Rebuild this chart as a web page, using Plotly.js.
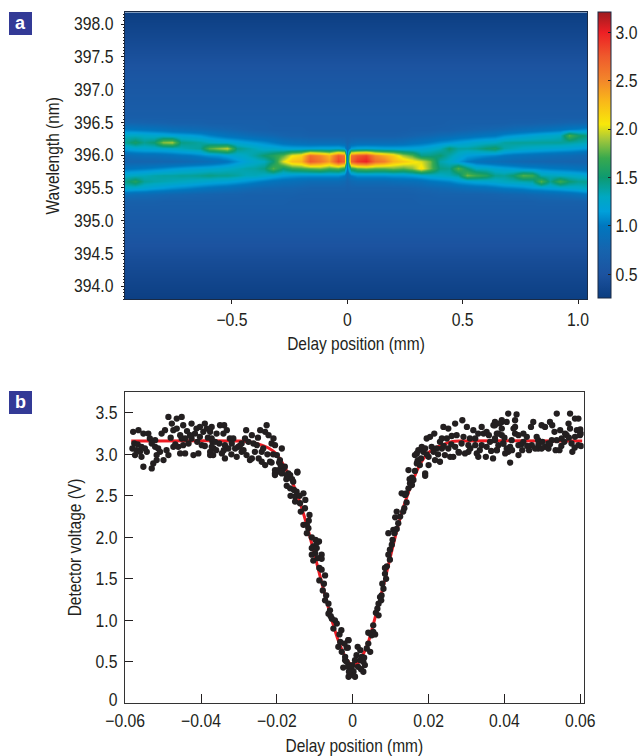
<!DOCTYPE html>
<html><head><meta charset="utf-8">
<script src="https://cdn.plot.ly/plotly-3.0.1.min.js"></script>
<style>html,body{margin:0;padding:0;background:#fff}#c{width:643px;height:756px}</style>
</head><body><div id="c"></div>
<script>
// Panel a: spectrogram
const delays = [-0.96,-0.92,-0.88,-0.84,-0.80,-0.76,-0.72,-0.68,-0.64,-0.60,-0.56,-0.52,-0.48,-0.44,-0.40,-0.36,-0.32,-0.28,-0.24,-0.20,-0.16,-0.12,-0.08,-0.04,-0.015,0,0.015,0.04,0.08,0.12,0.16,0.20,0.24,0.28,0.32,0.36,0.40,0.44,0.48,0.52,0.56,0.60,0.64,0.68,0.72,0.76,0.80,0.84,0.88,0.92,0.96,1.00,1.04];
const bandWavelengths = [395.3,395.4,395.5,395.6,395.7,395.8,395.9,396.0,396.1,396.2,396.3,396.4,396.5];
const bandColumns = [
[.70,.88,1.25,1.45,1.28,.98,.76,.85,1.18,1.42,1.30,1.02,.76],
[.70,.85,1.22,1.60,1.30,1.00,.76,.88,1.22,1.55,1.30,1.00,.75],
[.70,.84,1.20,1.40,1.32,1.02,.76,.90,1.24,1.42,1.28,.98,.74],
[.70,.82,1.15,1.36,1.36,1.05,.76,.90,1.25,1.50,1.25,.96,.73],
[.68,.80,1.12,1.34,1.38,1.08,.78,.92,1.26,1.85,1.24,.93,.72],
[.68,.78,1.08,1.32,1.38,1.12,.78,.95,1.28,1.90,1.20,.90,.70],
[.68,.77,1.05,1.30,1.40,1.15,.80,.98,1.32,1.45,1.18,.88,.70],
[.68,.76,1.02,1.28,1.40,1.18,.82,1.00,1.36,1.42,1.16,.86,.70],
[.68,.75,.98,1.25,1.42,1.20,.85,1.05,1.40,1.38,1.12,.84,.70],
[.68,.74,.95,1.22,1.45,1.22,.88,1.10,1.75,1.32,1.05,.82,.68],
[.68,.73,.92,1.20,1.42,1.25,.92,1.12,1.85,1.28,1.00,.80,.68],
[.68,.72,.90,1.18,1.42,1.28,.98,1.18,1.95,1.25,.95,.78,.68],
[.68,.72,.86,1.14,1.38,1.32,1.10,1.25,1.45,1.20,.92,.75,.68],
[.68,.70,.83,1.10,1.32,1.36,1.20,1.30,1.38,1.16,.88,.72,.68],
[.68,.70,.80,1.05,1.32,1.38,1.26,1.38,1.32,1.12,.85,.70,.68],
[.68,.70,.78,1.00,1.28,1.45,1.30,1.50,1.25,1.08,.82,.70,.68],
[.68,.70,.78,.95,1.22,1.75,1.50,1.60,1.25,1.02,.80,.68,.66],
[.68,.70,.76,.92,1.15,1.50,2.00,1.75,1.20,.95,.75,.68,.66],
[.66,.70,.76,.90,1.12,1.65,2.25,2.05,1.18,.92,.72,.68,.66],
[.66,.68,.74,.88,1.10,1.70,2.30,2.15,1.18,.90,.72,.68,.66],
[.66,.68,.72,.85,1.10,1.75,2.75,2.65,1.18,.88,.70,.66,.66],
[.66,.68,.72,.85,1.10,1.80,2.60,2.50,1.20,.88,.70,.66,.66],
[.66,.68,.72,.85,1.10,1.70,2.40,2.30,1.20,.88,.70,.66,.66],
[.66,.68,.72,.85,1.10,1.75,2.85,2.75,1.22,.88,.70,.66,.66],
[.66,.68,.72,.82,1.02,1.60,2.70,2.60,1.15,.85,.70,.66,.66],
[.66,.68,.70,.75,.85,.95,1.05,1.00,.85,.75,.70,.66,.66],
[.66,.68,.72,.82,1.02,1.60,2.70,2.60,1.15,.85,.70,.66,.66],
[.66,.68,.72,.85,1.10,1.75,2.90,2.75,1.20,.88,.70,.66,.66],
[.66,.68,.72,.85,1.10,1.80,3.00,2.85,1.22,.88,.70,.66,.66],
[.66,.68,.72,.85,1.10,1.75,2.65,2.50,1.20,.88,.70,.66,.66],
[.66,.68,.72,.85,1.10,1.75,2.55,2.35,1.18,.88,.70,.66,.66],
[.66,.68,.72,.88,1.12,1.80,2.30,2.20,1.18,.88,.70,.66,.66],
[.66,.68,.72,.90,1.12,1.75,2.20,1.90,1.18,.90,.72,.66,.66],
[.66,.68,.74,.90,1.15,1.85,2.10,1.75,1.18,.95,.74,.68,.66],
[.68,.70,.76,.92,1.20,2.10,2.00,1.45,1.20,.98,.78,.68,.66],
[.68,.70,.78,.98,1.25,1.80,1.80,1.45,1.25,1.02,.80,.68,.66],
[.68,.72,.80,1.02,1.28,1.45,1.35,1.50,1.32,1.08,.84,.70,.66],
[.68,.72,.82,1.05,1.32,1.42,1.28,1.36,1.50,1.12,.86,.70,.68],
[.68,.72,.85,1.12,1.40,1.75,1.15,1.25,1.38,1.16,.90,.72,.68],
[.68,.72,.88,1.16,1.80,1.50,1.02,1.15,1.38,1.20,.92,.74,.68],
[.68,.72,.90,1.20,1.70,1.30,.95,1.12,1.42,1.25,.95,.76,.68],
[.68,.73,.92,1.22,1.60,1.28,.90,1.08,1.50,1.28,.98,.78,.68],
[.68,.74,.96,1.25,1.42,1.22,.88,1.05,1.55,1.30,1.00,.80,.68],
[.68,.76,1.00,1.30,1.40,1.18,.85,1.00,1.36,1.38,1.08,.82,.68],
[.68,.77,1.02,1.32,1.50,1.15,.82,.96,1.32,1.40,1.12,.85,.70],
[.68,.78,1.05,1.35,1.75,1.10,.80,.94,1.28,1.40,1.16,.88,.70],
[.68,.80,1.10,1.38,1.70,1.08,.78,.92,1.26,1.40,1.20,.90,.70],
[.70,.82,1.12,1.75,1.35,1.05,.78,.90,1.24,1.40,1.24,.92,.72],
[.70,.84,1.15,1.42,1.32,1.02,.76,.88,1.22,1.40,1.26,.95,.72],
[.70,.86,1.18,1.70,1.30,1.00,.76,.86,1.20,1.40,1.30,.98,.74],
[.70,.88,1.22,1.50,1.28,.98,.75,.85,1.18,1.38,1.75,1.02,.76],
[.70,.92,1.25,1.42,1.26,.95,.75,.82,1.15,1.35,1.55,1.05,.76],
[.72,.98,1.30,1.42,1.22,.92,.75,.80,1.12,1.32,1.45,1.10,.78]
];
const belowWavelengths = [393.75,394.0,394.4,394.8,395.05,395.2];
const belowLevels = [.27,.33,.43,.56,.62,.66];
const aboveWavelengths = [396.6,396.8,397.2,397.6,398.0,398.2];
const aboveLevels = [.66,.62,.55,.44,.33,.27];
const scaleValues = [.255,.5,.75,1.0,1.15,1.3,1.5,1.7,1.9,2.05,2.3,2.5,2.75,3.0,3.21];
const scaleColors = ['#0b3d80','#1c53a0','#1664ae','#0077bf','#00a0da','#00a8c2','#0d9a70','#38a94e','#a6c83a','#f8e80a','#f9b51a','#f3872a','#ef5a2c','#ed1f24','#9d1b1f'];
const cbTicks = [0.5,1.0,1.5,2.0,2.5,3.0];
const aYTicks = [394,394.5,395,395.5,396,396.5,397,397.5,398];
const aXTicks = [-0.5,0,0.5,1.0];

// Panel b: measured points (delay in micrometres, detector volts)
const pointDelayUm = [
-57.9,-56.5,-55.2,-53.9,-53.5,-57.6,-56.7,-58.1,-57.0,-57.4,-56.1,-55.7,-54.3,-55.2,-53.0,-52.6,-51.7,-52.1,-51.3,-50.8,-51.7,-49.9,-48.6,-49.1,-47.3,-46.0,-45.5,-44.2,-52.1,-50.4,-49.5,-48.6,-47.7,-46.4,-45.1,-47.3,-46.4,-44.7,-45.5,-45.1,-44.2,-43.3,-42.5,-42.5,-41.2,-40.3,-39.0,-38.5,-39.4,-41.6,-40.3,-42.9,-39.8,-39.0,-42.0,-40.7,-37.6,-36.7,-37.0,-55.7,-54.8,-44.7,
-37.2,-37.6,-35.0,-33.9,-33.2,-35.9,-34.1,-37.2,-36.3,-37.2,-37.6,-36.8,-34.5,-33.7,-35.2,-33.7,-32.4,-31.5,-31.9,-32.8,-31.0,-30.2,-29.3,-28.4,-28.1,-26.6,-26.2,-25.3,-24.4,-23.1,-22.7,-22.2,-20.9,-21.4,-20.5,-18.7,-29.3,-30.6,-28.0,-26.6,-25.8,-24.0,-24.0,-23.1,-21.8,-20.0,-19.2,-19.6,-18.3,-17.0,-14.6,-20.5,-18.7,-27.1,-28.8,-23.6,
-21.4,-19.4,-17.9,-20.5,-19.6,-20.5,-18.7,-17.4,-16.5,-14.6,-15.7,-17.4,-16.5,-15.5,-14.8,-13.0,-16.4,-15.2,-15.2,-13.9,-12.6,-13.7,-11.4,-13.0,-12.1,-11.7,-12.1,-10.8,-8.9,-10.4,-10.8,-9.5,-9.9,-10.8,-8.2,-8.2,-10.4,-8.8,-8.2,-7.3,-8.8,-7.6,-7.9,-7.3,-6.4,-6.0,-6.4,-5.5,-4.7,-4.2,-5.1,-3.5,-1.1,-3.3,-3.8,-2.9,-1.6,-2.0,-2.5,-1.1,-1.1,-9.5,
-1.2,-1.3,1.3,2.0,1.0,2.4,4.1,4.6,3.7,0.6,2.0,2.8,3.2,2.2,-1.2,-0.3,0.2,-0.7,0.6,-1.6,-2.0,-1.0,-0.1,5.4,4.1,5.4,5.0,5.9,6.8,6.1,6.5,6.8,7.2,7.6,8.1,7.8,8.5,9.0,8.5,9.8,9.4,9.8,10.3,10.5,9.4,10.7,11.6,12.0,11.2,12.5,11.6,13.3,13.6,14.2,12.9,13.8,14.7,15.1,16.0,15.6,14.7,16.4,17.7,17.1,19.1,14.1,
16.9,17.3,16.4,18.2,17.3,16.9,18.6,19.1,20.8,19.5,20.4,21.5,23.0,23.9,25.2,27.0,28.9,30.1,31.8,34.0,34.5,35.3,37.5,37.1,39.3,35.9,33.1,32.3,30.9,29.2,27.4,26.1,24.8,23.5,20.0,20.0,21.7,23.0,24.3,25.7,26.5,27.9,29.6,30.5,32.7,33.1,35.1,35.3,38.0,37.5,36.2,39.3,39.7,32.3,30.5,28.7,27.0,25.2,23.5,22.1,21.3,19.1,34.0,38.4,
41.0,43.2,42.8,40.6,39.3,37.5,38.8,39.3,38.0,38.4,39.7,40.6,41.5,41.5,38.0,41.0,40.2,42.4,42.8,41.9,42.8,43.7,45.0,45.9,47.0,47.6,49.8,50.7,52.0,52.6,53.8,57.3,58.6,59.5,56.9,57.3,59.1,53.2,54.7,56.0,55.1,53.8,52.5,51.6,50.7,48.9,48.1,47.2,48.5,48.9,45.0,43.7,44.7,43.7,49.8,51.6,57.7,59.5,57.9,58.6,59.9,37.5,56.4,60.2,
-53.0,-48.0,-46.8,-43.7,-41.0,-38.2,-36.0,-34.0,-32.0,-29.8,-27.5,-25.0,-24.8,-22.5,-21.0,-19.0,-17.5,-16.0,-14.0,-12.5,-11.6,-9.8,-9.2,-7.0,-5.8,-3.0,-2.2,3.0,2.8,1.4,7.5,8.8,11.0,15.0,15.6,18.0,19.5,22.5,24.0,26.0,28.0,31.0,33.5,36.5,37.0,40.0,42.0,44.5,46.0,46.5,49.0,50.0,52.0,53.5,55.0,55.8,54.5,58.5,60.2,60.0,57.0
];
const pointVolts = [
3.27,3.29,3.25,3.25,3.19,3.13,3.12,3.07,3.05,2.99,3.03,2.97,3.03,2.85,2.83,2.89,2.93,3.09,3.07,3.03,2.99,2.93,2.99,3.05,3.09,3.09,3.01,3.01,3.17,3.25,3.29,3.45,3.37,3.43,3.45,3.29,3.31,3.35,3.23,3.19,3.19,3.13,3.19,3.37,3.31,3.33,3.37,3.31,3.27,3.25,3.21,3.23,3.11,3.10,2.99,3.01,2.99,3.07,3.15,3.09,3.07,3.11,
3.33,3.27,3.35,3.35,3.29,3.25,3.25,3.19,3.15,3.09,3.03,2.99,3.01,2.95,3.13,3.11,3.19,3.19,3.13,3.07,3.07,3.09,3.13,3.19,3.29,3.23,3.13,3.11,3.29,3.27,3.35,3.23,3.19,3.13,3.11,3.07,3.03,2.97,2.99,2.95,3.03,3.03,2.91,2.87,2.91,2.99,2.93,2.81,2.83,2.77,2.79,2.77,2.77,2.93,3.05,3.07,
2.90,2.90,2.85,2.81,2.79,2.75,2.79,2.75,2.75,2.78,2.67,2.62,2.59,2.57,2.55,2.53,2.50,2.49,2.43,2.41,2.35,2.31,2.27,2.15,2.15,2.11,2.05,2.00,1.95,1.89,1.87,1.87,1.81,1.79,1.79,1.74,1.72,1.63,1.61,1.54,1.48,1.44,1.36,1.24,1.20,1.12,1.08,1.02,1.00,0.96,0.90,0.83,0.76,0.74,0.68,0.62,0.67,0.52,0.43,0.46,0.32,1.93,
0.76,0.67,0.68,0.64,0.58,0.56,0.72,0.62,0.66,0.52,0.52,0.50,0.46,0.41,0.44,0.42,0.38,0.34,0.32,0.50,0.56,0.38,0.46,0.86,0.85,0.94,0.82,0.83,1.06,1.09,1.14,1.20,1.28,1.30,1.38,1.44,1.56,1.65,1.63,1.73,1.79,1.85,1.91,1.97,2.05,2.09,2.10,2.17,2.24,2.25,2.31,2.31,2.35,2.42,2.53,2.51,2.59,2.65,2.69,2.63,2.81,2.80,2.87,2.92,2.74,2.53,
2.89,2.93,2.99,3.09,3.05,3.01,3.03,3.07,3.09,3.19,3.21,3.25,3.15,3.33,3.31,3.37,3.41,3.33,3.29,3.33,3.25,3.27,3.39,3.35,3.39,3.23,3.25,3.19,3.19,3.21,3.23,3.22,3.19,3.19,2.97,2.87,2.93,2.91,2.99,2.97,2.97,3.03,3.01,3.03,3.01,2.97,2.97,3.09,3.05,3.17,3.15,3.23,3.13,3.11,3.11,3.13,3.09,3.07,3.07,3.07,3.03,2.77,3.11,3.25,
3.49,3.48,3.41,3.39,3.41,3.35,3.37,3.31,3.25,3.11,3.13,3.07,3.09,2.90,3.05,3.03,3.01,3.31,3.25,3.17,3.33,3.23,3.25,3.21,3.33,3.39,3.35,3.33,3.39,3.35,3.49,3.49,3.43,3.43,3.37,3.31,3.29,3.27,3.29,3.25,3.19,3.17,3.17,3.13,3.09,3.07,3.07,3.11,3.21,3.17,3.15,3.11,3.05,2.99,3.07,3.07,3.13,3.11,3.03,3.21,3.23,3.19,3.23,3.25,
3.13,3.20,3.12,3.28,3.15,3.20,3.05,3.05,3.00,3.10,3.15,3.20,2.95,3.00,3.00,2.87,2.70,2.70,2.50,2.45,2.20,1.97,1.75,1.30,1.05,0.88,0.72,0.55,0.38,0.44,1.24,1.50,2.05,2.70,2.72,2.95,3.00,3.00,3.10,3.12,3.02,3.07,3.05,3.04,2.95,3.20,3.05,3.12,3.10,3.05,3.12,3.15,3.12,3.05,3.10,3.15,3.05,3.08,3.10,3.30,3.20
];
const fitDelayUm = [-58.4,-30,-26,-24,-22,-20,-19,-18,-16,-14,-12,-10,-8,-6,-4,-2,-1,0,1,2,4,6,8,10,12,14,16,18,20,22,24,26,28,60.5];
const fitVolts = [3.16,3.16,3.14,3.11,3.07,3.0,2.93,2.85,2.67,2.43,2.13,1.78,1.42,1.08,.78,.56,.49,.46,.47,.52,.72,1.05,1.4,1.78,2.15,2.45,2.7,2.9,3.02,3.08,3.12,3.15,3.16,3.16];
const bXTicks = [-0.06,-0.04,-0.02,0,0.02,0.04,0.06];
const bXLabels = ['\u22120.06','\u22120.04','\u22120.02','0','0.02','0.04','0.06'];
const bYTicks = [0,0.5,1,1.5,2,2.5,3,3.5];
const bYLabels = ['0','0.5','1.0','1.5','2.0','2.5','3.0','3.5'];

const W=643,H=756,R=50, zMin=.255, zMax=3.21;
const fx=p=>p/(W-R), fy=p=>1-p/H;
const wavelengths = belowWavelengths.concat(bandWavelengths, aboveWavelengths);
const z = [].concat(
  belowLevels.map(v=>delays.map(()=>v)),
  bandWavelengths.map((_,r)=>bandColumns.map(col=>col[r])),
  aboveLevels.map(v=>delays.map(()=>v))
);
const scale = scaleValues.map((v,i)=>[(v-zMin)/(zMax-zMin),scaleColors[i]]);
const ink='#231f20', font={family:'"Liberation Sans",sans-serif',size:18,color:ink};
const labelFont={family:font.family,size:17.7,color:ink};

const traces=[
 {type:'heatmap',x:delays,y:wavelengths,z:z,zsmooth:'best',zmin:zMin,zmax:zMax,colorscale:scale,xaxis:'x',yaxis:'y',
  colorbar:{x:598.3/W,xanchor:'left',xref:'container',y:fy(298),yanchor:'bottom',yref:'container',len:285.7/H,lenmode:'fraction',
   thickness:12.7,thicknessmode:'pixels',xpad:0,ypad:0,outlinecolor:'#1a2a44',outlinewidth:1,tickmode:'array',tickvals:cbTicks,
   ticktext:cbTicks.map(v=>v.toFixed(1)),ticks:'inside',ticklen:3,tickcolor:ink,tickfont:font}},
 {type:'scatter',mode:'lines',x:fitDelayUm.map(v=>v/1000),y:fitVolts,xaxis:'x2',yaxis:'y2',line:{color:'#ed1c24',width:3,shape:'spline',smoothing:0.5},hoverinfo:'skip'},
 {type:'scatter',mode:'markers',x:pointDelayUm.map(v=>v/1000),y:pointVolts,xaxis:'x2',yaxis:'y2',marker:{color:ink,size:6.3}}
];
const layout={
 width:W,height:H,margin:{l:0,r:R,t:0,b:0},paper_bgcolor:'#fff',plot_bgcolor:'#fff',showlegend:false,font:font,
 xaxis:{domain:[fx(125),fx(587)],range:[-0.9636,1.039],anchor:'y',tickmode:'array',tickvals:aXTicks,ticktext:aXTicks.map(v=>v===0?'0':(v<0?'\u2212':'')+Math.abs(v).toFixed(1)),
   ticks:'outside',ticklen:4,tickcolor:ink,tickfont:font,showgrid:false,zeroline:false,showline:true,linecolor:'#1a2a44',mirror:true,
   title:{text:'Delay position (mm)',font:labelFont,standoff:8}},
 yaxis:{domain:[fy(299.3),fy(12.3)],range:[393.8,398.18],anchor:'x',tickmode:'array',tickvals:aYTicks,ticktext:aYTicks.map(v=>v.toFixed(1)),
   ticks:'outside',ticklen:3,ticklabelstandoff:4,tickcolor:ink,tickfont:font,showgrid:false,zeroline:false,showline:true,linecolor:'#1a2a44',mirror:true,
   minor:{dtick:0.05,ticks:'outside',ticklen:1.5,tickcolor:ink,showgrid:false},
   title:{text:'Wavelength (nm)',font:labelFont,standoff:4}},
 xaxis2:{domain:[fx(125),fx(583.7)],range:[-0.06005,0.0609],anchor:'y2',tickmode:'array',tickvals:bXTicks,ticktext:bXLabels,
   ticks:'inside',ticklen:9,ticklabelstandoff:1,tickcolor:ink,tickfont:font,showgrid:false,zeroline:false,showline:true,linecolor:'#333',mirror:true,
   title:{text:'Delay position (mm)',font:labelFont,standoff:11}},
 yaxis2:{domain:[fy(703.3),fy(391.7)],range:[0,3.754],anchor:'x2',tickmode:'array',tickvals:bYTicks,ticktext:bYLabels,
   ticks:'inside',ticklen:8,ticklabelstandoff:3,tickcolor:ink,tickfont:font,showgrid:false,zeroline:false,showline:true,linecolor:'#333',mirror:true,
   title:{text:'Detector voltage (V)',font:labelFont,standoff:6}},
 shapes:[
  {type:'rect',xref:'paper',yref:'paper',x0:fx(9),x1:fx(32),y0:fy(35),y1:fy(12),fillcolor:'#333a96',line:{width:0}},
  {type:'rect',xref:'paper',yref:'paper',x0:fx(9),x1:fx(32),y0:fy(414),y1:fy(391),fillcolor:'#333a96',line:{width:0}}
 ],
 annotations:[
  {text:'<b>a</b>',xref:'paper',yref:'paper',x:fx(20.5),y:fy(23),xanchor:'center',yanchor:'middle',showarrow:false,font:{family:'"Liberation Sans",sans-serif',size:18,color:'#fff'}},
  {text:'<b>b</b>',xref:'paper',yref:'paper',x:fx(20.5),y:fy(402),xanchor:'center',yanchor:'middle',showarrow:false,font:{family:'"Liberation Sans",sans-serif',size:18,color:'#fff'}}
 ]
};
const NARROW=0.875;
Plotly.newPlot('c',traces,layout,{displayModeBar:false,responsive:false}).then(gd=>{
  // The reference uses a condensed face: squeeze each text horizontally around its own anchor.
  gd.querySelectorAll('svg text').forEach(t=>{
    if(t.closest('.annotation')) return;
    const x=parseFloat(t.getAttribute('x'))||0, y=parseFloat(t.getAttribute('y'))||0;
    const old=t.getAttribute('transform')||'';
    const lift=(t.closest('.y2tick')&&t.textContent==='0')?`translate(0,-4) `:'';
    t.setAttribute('transform',`${lift}${old} translate(${x},${y}) scale(${NARROW},1) translate(${-x},${-y})`);
  });
});
</script></body></html>
